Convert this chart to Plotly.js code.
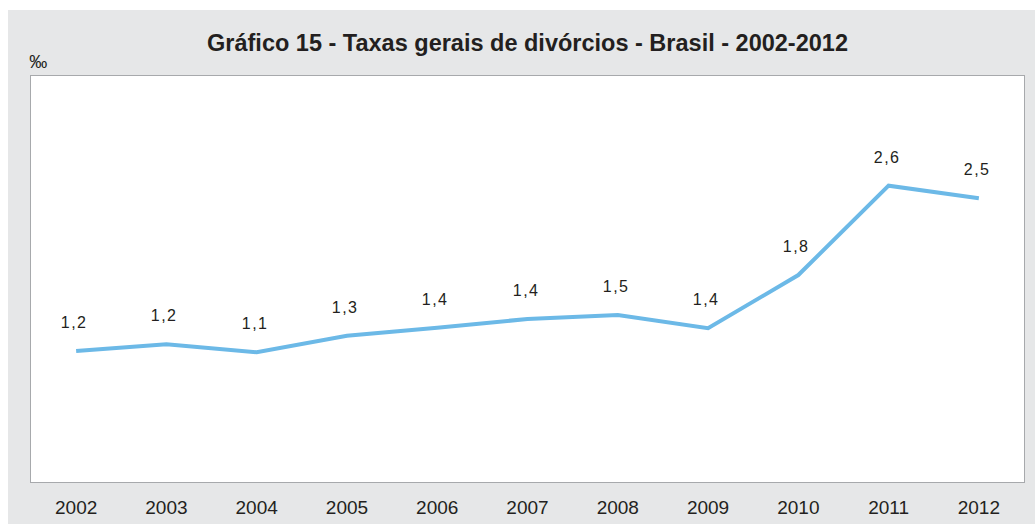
<!DOCTYPE html>
<html>
<head>
<meta charset="utf-8">
<script src="https://cdn.plot.ly/plotly-3.0.1.min.js"></script>
<style>
  html, body { margin: 0; padding: 0; background: #ffffff; }
  #chart { position: absolute; left: 8px; top: 10px; width: 1027px; height: 514px; }
  #chart .annotation-text { letter-spacing: 1.5px; }
</style>
</head>
<body>
<div id="chart"></div>
<script>
const years = ["2002","2003","2004","2005","2006","2007","2008","2009","2010","2011","2012"];
const rates = [1.154, 1.213, 1.143, 1.287, 1.356, 1.433, 1.467, 1.352, 1.815, 2.592, 2.482];
const rateLabels = ["1,2","1,2","1,1","1,3","1,4","1,4","1,5","1,4","1,8","2,6","2,5"];

const textColor = "#231f20";
const fontFam = "Liberation Sans, Arial, Helvetica, sans-serif";

const trace = {
  x: years,
  y: rates,
  type: "scatter",
  mode: "lines",
  line: { color: "#6cb9e7", width: 4 },
  hoverinfo: "skip"
};

const annotations = years.map((yr, i) => ({
  x: i, y: rates[i], xref: "x", yref: "y",
  text: rateLabels[i], showarrow: false,
  yshift: 28.5, xshift: -2, yanchor: "middle", xanchor: "center",
  font: { family: fontFam, size: 16, color: textColor }
}));
annotations.push({
  x: 0, y: 1.035, xref: "paper", yref: "paper",
  text: "‰", showarrow: false, xanchor: "left", yanchor: "middle", xshift: -3,
  font: { family: fontFam, size: 18, color: textColor }
});

const layout = {
  width: 1027, height: 514,
  margin: { l: 23, r: 11, t: 66, b: 42, pad: 0 },
  paper_bgcolor: "#e6e7e8",
  plot_bgcolor: "#ffffff",
  showlegend: false,
  title: {
    text: "<b>Gráfico 15 - Taxas gerais de divórcios - Brasil - 2002-2012</b>",
    x: 0.5, xref: "paper", xanchor: "center",
    y: 0.936, yref: "container", yanchor: "middle",
    font: { family: fontFam, size: 23.5, color: textColor }
  },
  xaxis: {
    type: "category",
    range: [-0.5, 10.5],
    showgrid: false, zeroline: false,
    showline: true, mirror: true, linecolor: "#a7a9ac", linewidth: 1,
    ticks: "", ticklabelstandoff: 8,
    tickfont: { family: fontFam, size: 19, color: textColor },
    fixedrange: true
  },
  yaxis: {
    range: [0.015, 3.546],
    showgrid: false, zeroline: false,
    showline: true, mirror: true, linecolor: "#a7a9ac", linewidth: 1,
    showticklabels: false, ticks: "",
    fixedrange: true
  },
  annotations: annotations
};

Plotly.newPlot("chart", [trace], layout, { staticPlot: true, displayModeBar: false });
</script>
</body>
</html>
